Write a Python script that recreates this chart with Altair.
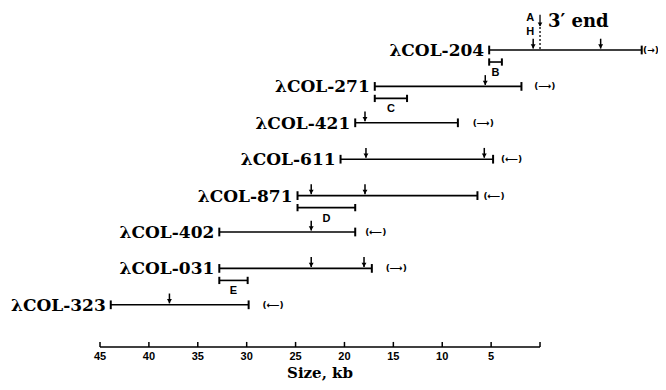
import altair as alt
import pandas as pd

# ---- data ----
clones = ["λCOL-204", "λCOL-271", "λCOL-421", "λCOL-611",
          "λCOL-871", "λCOL-402", "λCOL-031", "λCOL-323"]
clone_start = [5.2, 16.9, 18.9, 20.4, 24.8, 32.8, 32.8, 43.9]
clone_end = [-10.4, 1.9, 8.4, 4.8, 6.4, 18.9, 17.2, 29.8]
orientation = ["→", "⟶", "⟶", "⟵", "⟵", "⟵", "⟶", "⟵"]
orientation_kb = [-11.35, -0.5, 5.8, 2.9, 4.7, 16.8, 14.7, 27.3]

site_lane = [0, 0, 1, 2, 3, 3, 4, 4, 5, 6, 6, 7]
site_kb = [0.7, -6.2, 5.6, 17.9, 17.8, 5.7, 23.4, 17.9, 23.4, 23.4, 18.0, 37.9]

frag_names = ["B", "C", "D", "E"]
frag_lane = [0, 1, 4, 6]
frag_start = [5.2, 16.9, 24.8, 32.8]
frag_end = [3.9, 13.6, 18.9, 29.9]

axis_ticks = [45, 40, 35, 30, 25, 20, 15, 10, 5, 0]
axis_labels = ["45", "40", "35", "30", "25", "20", "15", "10", "5", ""]

# ---- scales ----
W, H = 650, 374
XS = alt.Scale(domain=[54.41, 54.41 - W / 9.778], nice=False, zero=False)
YS = alt.Scale(domain=[-1.154, -1.154 + H / 36.4], nice=False, zero=False, reverse=True)

def X(f):
    return alt.X(f, type="quantitative", scale=XS, axis=None)

def Y(f):
    return alt.Y(f, type="quantitative", scale=YS, axis=None)

cdf = pd.DataFrame({
    "lane": list(range(len(clones))),
    "name": clones,
    "start": clone_start,
    "end": clone_end,
    "orient": orientation,
    "opos": orientation_kb,
})
sdf = pd.DataFrame({"lane": site_lane, "kb": site_kb})
fdf = pd.DataFrame({"name": frag_names, "lane": frag_lane,
                    "start": frag_start, "end": frag_end})
adf = pd.DataFrame({"kb": axis_ticks, "label": axis_labels})

SERIF = "DejaVu Serif"
SANS = "Liberation Sans"

base = alt.Chart(cdf)

lines = base.mark_rule(color="black", strokeWidth=1.6).encode(
    x=X("start"), x2="end", y=Y("lane"))

caps = base.transform_fold(["start", "end"], as_=["k", "pos"]).transform_calculate(
    y1="datum.lane - 0.12", y2="datum.lane + 0.12"
).mark_rule(color="black", strokeWidth=2).encode(
    x=X("pos"), y=Y("y1"), y2="y2")

labels = base.mark_text(align="right", baseline="middle", dx=-5, dy=1,
                        font=SERIF, fontWeight="bold", fontSize=17,
                        color="black").encode(
    x=X("start"), y=Y("lane"), text="name:N")

orients = base.transform_calculate(t="'(' + datum.orient + ')'").mark_text(
    align="center", baseline="middle", font="DejaVu Sans", fontSize=9,
    fontWeight="bold", color="black").encode(
    x=X("opos"), y=Y("lane"), text="t:N")

sbase = alt.Chart(sdf).transform_calculate(
    y1="datum.lane - 0.31", y2="datum.lane - 0.04", yh="datum.lane - 0.1")
site_shaft = sbase.mark_rule(color="black", strokeWidth=1.5).encode(
    x=X("kb"), y=Y("y1"), y2="y2")
site_head = sbase.mark_point(shape="triangle-down", filled=True, size=24,
                             color="black", opacity=1).encode(
    x=X("kb"), y=Y("yh"))

fbase = alt.Chart(fdf).transform_calculate(
    fy="datum.lane + 0.33", c1="datum.lane + 0.23", c2="datum.lane + 0.43",
    ly="datum.lane + 0.63")
frag_line = fbase.mark_rule(color="black", strokeWidth=1.6).encode(
    x=X("start"), x2="end", y=Y("fy"))
frag_caps = fbase.transform_fold(["start", "end"], as_=["k", "pos"]).mark_rule(
    color="black", strokeWidth=2).encode(x=X("pos"), y=Y("c1"), y2="c2")
frag_text = fbase.transform_calculate(mid="(datum.start + datum.end) / 2").mark_text(
    font=SANS, fontWeight="bold", fontSize=11, baseline="middle",
    color="black").encode(x=X("mid"), y=Y("ly"), text="name:N")

# 3' end marker
end_df = pd.DataFrame({"kb": [0.0]})
eb = alt.Chart(end_df).transform_calculate(
    d1="-0.63", d2="0", a1="-0.97", a2="-0.66", ah="-0.7", ty="-0.77")
dashed = eb.mark_rule(color="black", strokeWidth=1.3, strokeDash=[2, 2]).encode(
    x=X("kb"), y=Y("d1"), y2="d2")
top_shaft = eb.mark_rule(color="black", strokeWidth=1.3).encode(
    x=X("kb"), y=Y("a1"), y2="a2")
top_head = eb.mark_point(shape="triangle-down", filled=True, size=22,
                         color="black", opacity=1).encode(x=X("kb"), y=Y("ah"))
end_text = eb.mark_text(align="left", baseline="middle", dx=8, font=SERIF,
                        fontWeight="bold", fontSize=18, color="black",
                        text="3′ end").encode(x=X("kb"), y=Y("ty"))

ah_df = pd.DataFrame({"kb": [1.0, 1.0], "t": ["A", "H"], "yy": [-0.88, -0.49]})
ah_text = alt.Chart(ah_df).mark_text(font=SANS, fontWeight="bold", fontSize=11,
                                     baseline="middle", color="black").encode(
    x=X("kb"), y=Y("yy"), text="t:N")

# manual axis
ab = alt.Chart(adf).transform_calculate(ay="8.16", t1="8.02", ly="8.44")
axis_line = alt.Chart(pd.DataFrame({"a": [45], "b": [0]})).transform_calculate(
    ay="8.16").mark_rule(color="black", strokeWidth=1.6).encode(
    x=X("a"), x2="b", y=Y("ay"))
axis_ticks_m = ab.mark_rule(color="black", strokeWidth=1.5).encode(
    x=X("kb"), y=Y("t1"), y2="ay")
axis_text = ab.mark_text(font=SANS, fontWeight="bold", fontSize=11,
                         baseline="middle", color="black").encode(
    x=X("kb"), y=Y("ly"), text="label:N")
title_text = alt.Chart(pd.DataFrame({"kb": [22.5], "yy": [9.09]})).mark_text(
    font=SERIF, fontWeight="bold", fontSize=15, baseline="bottom",
    color="black", text="Size, kb").encode(x=X("kb"), y=Y("yy"))

chart = alt.layer(
    lines, caps, labels, orients, site_shaft, site_head,
    frag_line, frag_caps, frag_text,
    dashed, top_shaft, top_head, end_text, ah_text,
    axis_line, axis_ticks_m, axis_text, title_text,
).properties(width=W, height=H, autosize="none", padding=0,
             background="white").configure_view(strokeWidth=0)

chart.save("out.html", embed_options={"renderer": "svg", "actions": False})
